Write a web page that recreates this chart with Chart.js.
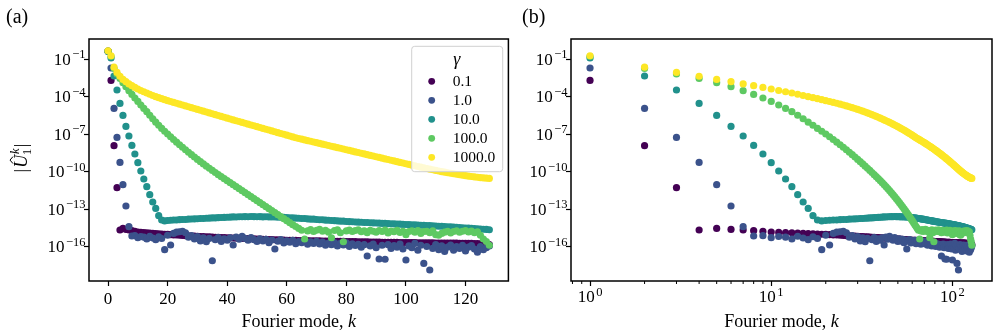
<!DOCTYPE html>
<html>
<head>
<meta charset="utf-8">
<script src="https://cdn.jsdelivr.net/npm/chart.js@4.4.1/dist/chart.umd.min.js"></script>
<style>
  html, body { margin: 0; padding: 0; background: #fff; }
  #wrap { position: relative; width: 996px; height: 336px; }
  canvas { position: absolute; top: 0; }
  #chartA { left: 0; }
  #chartB { left: 512px; }
</style>
</head>
<body>
<div id="wrap">
  <canvas id="chartA" width="512" height="336"></canvas>
  <canvas id="chartB" width="484" height="336"></canvas>
</div>
<script>
// Fourier modes k
const modes = [0,1,2,3,4,5,6,7,8,9,10,11,12,13,14,15,16,17,18,19,20,21,22,23,24,25,26,27,28,29,
  30,31,32,33,34,35,36,37,38,39,40,41,42,43,44,45,46,47,48,49,50,51,52,53,54,55,56,57,58,59,
  60,61,62,63,64,65,66,67,68,69,70,71,72,73,74,75,76,77,78,79,80,81,82,83,84,85,86,87,88,89,
  90,91,92,93,94,95,96,97,98,99,100,101,102,103,104,105,106,107,108,109,110,111,112,113,114,115,116,117,118,119,
  120,121,122,123,124,125,126,127,128];

const gammaLabels = ['0.1', '1.0', '10.0', '100.0', '1000.0'];
const colors = ['#440154', '#3b528b', '#21918c', '#5ec962', '#fde725'];

// log10 |U_1^k|, one value per mode
const logG01 = [
  -0.37,-2.71,-7.93,-11.29,-14.68,-14.55,-14.63,-14.68,-14.73,-14.79,
  -14.84,-14.87,-14.89,-14.90,-14.93,-14.94,-14.97,-14.98,-15.00,-15.02,
  -15.03,-15.05,-15.07,-15.08,-15.10,-15.11,-15.13,-15.14,-15.16,-15.17,
  -15.18,-15.20,-15.21,-15.22,-15.23,-15.24,-15.26,-15.27,-15.28,-15.29,
  -15.30,-15.31,-15.32,-15.33,-15.34,-15.35,-15.36,-15.37,-15.38,-15.39,
  -15.40,-15.41,-15.42,-15.43,-15.44,-15.45,-15.46,-15.47,-15.48,-15.49,
  -15.50,-15.50,-15.51,-15.51,-15.52,-15.52,-15.53,-15.53,-15.54,-15.54,
  -15.55,-15.55,-15.56,-15.56,-15.57,-15.57,-15.58,-15.58,-15.59,-15.59,
  -15.60,-15.60,-15.61,-15.61,-15.62,-15.62,-15.63,-15.63,-15.64,-15.64,
  -15.65,-15.65,-15.66,-15.66,-15.66,-15.67,-15.67,-15.67,-15.68,-15.68,
  -15.68,-15.69,-15.69,-15.69,-15.70,-15.70,-15.70,-15.71,-15.71,-15.71,
  -15.72,-15.72,-15.72,-15.72,-15.73,-15.73,-15.73,-15.73,-15.74,-15.74,
  -15.74,-15.75,-15.75,-15.76,-15.77,-15.78,-15.80,-15.82,-15.85];
const logG1 = [
  -0.38,-1.72,-4.95,-7.27,-9.27,-11.05,-12.76,-14.41,-15.16,-15.13,
  -15.29,-15.20,-15.25,-15.40,-15.18,-15.32,-15.45,-15.22,-15.36,-16.25,
  -15.10,-15.88,-14.95,-14.85,-14.82,-14.78,-14.90,-15.25,-15.12,-15.40,
  -15.20,-15.55,-15.30,-15.62,-15.35,-17.14,-15.45,-15.28,-15.60,-15.38,
  -15.50,-15.30,-15.88,-15.25,-15.42,-15.18,-15.35,-15.50,-15.28,-15.45,
  -15.60,-15.38,-15.55,-15.42,-15.70,-15.48,-16.20,-15.58,-15.45,-15.72,
  -15.55,-15.65,-15.50,-15.78,-15.60,-15.70,-15.55,-15.82,-15.62,-15.75,
  -15.58,-15.80,-15.65,-15.90,-15.72,-15.85,-15.68,-15.95,-15.75,-15.88,
  -15.70,-16.00,-15.78,-15.92,-15.82,-16.05,-15.85,-16.76,-15.95,-15.80,
  -16.10,-17.00,-15.90,-17.02,-15.85,-16.15,-15.92,-16.05,-15.80,-16.20,
  -17.08,-15.95,-16.10,-15.75,-16.30,-15.90,-17.35,-16.00,-17.88,-16.15,
  -15.85,-16.25,-15.95,-16.40,-16.05,-15.88,-16.30,-16.00,-16.15,-15.90,
  -16.35,-16.05,-15.92,-16.20,-16.45,-16.00,-16.25,-16.10,-15.95];
const logG10 = [
  -0.40,-0.92,-2.36,-3.48,-4.55,-5.51,-6.39,-7.16,-7.91,-8.60,
  -9.29,-9.96,-10.60,-11.21,-11.85,-12.44,-12.95,-13.53,-13.88,-13.95,
  -13.92,-13.90,-13.88,-13.88,-13.85,-13.84,-13.84,-13.81,-13.80,-13.79,
  -13.78,-13.76,-13.76,-13.74,-13.73,-13.71,-13.71,-13.69,-13.68,-13.67,
  -13.66,-13.65,-13.63,-13.64,-13.62,-13.62,-13.61,-13.62,-13.60,-13.61,
  -13.62,-13.61,-13.63,-13.62,-13.63,-13.64,-13.63,-13.65,-13.66,-13.67,
  -13.68,-13.70,-13.70,-13.73,-13.74,-13.76,-13.76,-13.79,-13.81,-13.81,
  -13.84,-13.86,-13.86,-13.89,-13.90,-13.92,-13.93,-13.95,-13.97,-13.97,
  -14.00,-14.01,-14.02,-14.04,-14.05,-14.06,-14.08,-14.08,-14.10,-14.11,
  -14.12,-14.13,-14.15,-14.15,-14.17,-14.18,-14.19,-14.21,-14.21,-14.23,
  -14.24,-14.25,-14.27,-14.27,-14.29,-14.30,-14.31,-14.33,-14.33,-14.35,
  -14.36,-14.38,-14.38,-14.41,-14.42,-14.43,-14.45,-14.47,-14.48,-14.50,
  -14.52,-14.53,-14.55,-14.56,-14.58,-14.60,-14.62,-14.63,-14.66];
const logG100 = [
  -0.36,-0.80,-1.75,-2.20,-2.55,-2.89,-3.21,-3.53,-3.83,-4.12,
  -4.39,-4.68,-4.95,-5.21,-5.50,-5.78,-6.05,-6.30,-6.55,-6.78,
  -7.00,-7.22,-7.44,-7.65,-7.86,-8.06,-8.26,-8.46,-8.65,-8.84,
  -9.03,-9.21,-9.39,-9.57,-9.74,-9.91,-10.08,-10.25,-10.41,-10.57,
  -10.73,-10.89,-11.05,-11.21,-11.37,-11.53,-11.69,-11.85,-12.01,-12.17,
  -12.33,-12.49,-12.65,-12.81,-12.97,-13.13,-13.29,-13.45,-13.61,-13.77,
  -13.93,-14.09,-14.25,-14.40,-14.55,-14.70,-15.40,-14.75,-14.65,-14.80,
  -14.70,-14.62,-14.78,-14.70,-14.85,-15.30,-14.72,-14.66,-14.90,-15.62,
  -14.75,-14.68,-14.80,-14.72,-14.66,-14.82,-14.74,-14.90,-14.70,-14.78,
  -14.85,-14.72,-14.80,-14.68,-14.92,-14.76,-14.82,-14.70,-14.88,-14.78,
  -15.05,-14.80,-14.74,-14.86,-14.72,-14.95,-14.80,-14.78,-14.90,-14.74,
  -15.05,-15.10,-14.95,-14.85,-14.78,-14.92,-14.80,-14.74,-14.86,-14.78,
  -14.72,-14.84,-14.76,-14.90,-14.82,-15.10,-15.40,-15.60,-15.90];
const logG1000 = [
  -0.34,-0.74,-1.65,-2.07,-2.38,-2.63,-2.81,-2.99,-3.13,-3.27,
  -3.40,-3.52,-3.62,-3.72,-3.82,-3.92,-4.01,-4.09,-4.17,-4.25,
  -4.33,-4.40,-4.47,-4.54,-4.61,-4.68,-4.75,-4.82,-4.89,-4.96,
  -5.03,-5.10,-5.17,-5.24,-5.31,-5.38,-5.45,-5.52,-5.59,-5.66,
  -5.73,-5.80,-5.87,-5.94,-6.00,-6.07,-6.14,-6.21,-6.28,-6.34,
  -6.41,-6.48,-6.55,-6.62,-6.68,-6.75,-6.82,-6.89,-6.96,-7.02,
  -7.09,-7.16,-7.23,-7.30,-7.36,-7.41,-7.47,-7.53,-7.58,-7.64,
  -7.69,-7.75,-7.81,-7.86,-7.92,-7.98,-8.03,-8.09,-8.14,-8.20,
  -8.26,-8.31,-8.37,-8.43,-8.48,-8.54,-8.59,-8.65,-8.71,-8.76,
  -8.82,-8.87,-8.93,-8.99,-9.04,-9.10,-9.15,-9.21,-9.27,-9.32,
  -9.38,-9.43,-9.49,-9.54,-9.60,-9.65,-9.70,-9.76,-9.81,-9.86,
  -9.91,-9.96,-10.01,-10.05,-10.10,-10.14,-10.18,-10.22,-10.26,-10.30,
  -10.33,-10.37,-10.40,-10.43,-10.46,-10.49,-10.51,-10.53,-10.55];

// tick labels
const xTicksLinear = [0, 20, 40, 60, 80, 100, 120];
const xTickExpsLog = [0, 1, 2];
const xMinorLog = [0.8, 0.9, 2, 3, 4, 5, 6, 7, 8, 9, 20, 30, 40, 50, 60, 70, 80, 90];
const yTickExps = [-1, -4, -7, -10, -13, -16];

const SERIF = '"Liberation Serif", "DejaVu Serif", serif';
const series = [logG01, logG1, logG10, logG100, logG1000];

function makeDatasets(logX) {
  return series.map((s, i) => ({
    label: gammaLabels[i],
    data: modes.map((k, j) => ({ x: k, y: Math.pow(10, s[j]) })).filter(p => !logX || p.x > 0),
    backgroundColor: colors[i],
    borderColor: colors[i],
    borderWidth: 0,
    pointRadius: 3.6,
    pointHoverRadius: 3.6,
    order: series.length - i
  }));
}

// "10" with a raised exponent, like the mathtext tick labels
function drawPow(ctx, exp, x, base, align) {
  const txt = '10';
  const ex = exp < 0 ? '\u2212' + Math.abs(exp) : String(exp);
  ctx.font = `17px ${SERIF}`;
  const wb = ctx.measureText(txt).width;
  ctx.font = `12.5px ${SERIF}`;
  const we = ctx.measureText(ex).width;
  const gap = 1.5;
  const x0 = align === 'right' ? x - wb - we - gap : x - (wb + we + gap) / 2;
  ctx.textAlign = 'left';
  ctx.textBaseline = 'alphabetic';
  ctx.font = `17px ${SERIF}`;
  ctx.fillText(txt, x0, base);
  ctx.font = `12.5px ${SERIF}`;
  ctx.fillText(ex, x0 + wb + gap, base - 6.5);
}

function drawXTitle(ctx, cx, base) {
  ctx.textAlign = 'left';
  ctx.textBaseline = 'alphabetic';
  ctx.font = `18px ${SERIF}`;
  const w1 = ctx.measureText('Fourier mode, ').width;
  ctx.font = `italic 18px ${SERIF}`;
  const w2 = ctx.measureText('k').width;
  const x = cx - (w1 + w2) / 2;
  ctx.font = `18px ${SERIF}`;
  ctx.fillText('Fourier mode, ', x, base);
  ctx.font = `italic 18px ${SERIF}`;
  ctx.fillText('k', x + w1, base);
}

function drawYTitle(ctx, cx, cy) {
  ctx.save();
  ctx.translate(cx, cy);
  ctx.rotate(-Math.PI / 2);
  ctx.textAlign = 'left';
  ctx.textBaseline = 'alphabetic';
  const base = 6;
  ctx.font = `18px ${SERIF}`;
  const wBar = ctx.measureText('|').width;
  ctx.font = `italic 18px ${SERIF}`;
  const wU = ctx.measureText('U').width;
  ctx.font = `12.5px ${SERIF}`;
  const w1 = ctx.measureText('1').width;
  ctx.font = `italic 12.5px ${SERIF}`;
  const wk = ctx.measureText('k').width;
  const wS = Math.max(w1, wk) + 1.5;
  const total = wBar + 1 + wU + wS + wBar;
  let x = -total / 2;
  ctx.font = `18px ${SERIF}`;
  ctx.fillText('|', x, base);
  x += wBar + 1;
  ctx.font = `italic 18px ${SERIF}`;
  ctx.fillText('U', x, base);
  const hx = x + wU * 0.6;
  ctx.beginPath();
  ctx.lineWidth = 1;
  ctx.moveTo(hx - 3.5, base - 14);
  ctx.lineTo(hx, base - 17);
  ctx.lineTo(hx + 3.5, base - 14);
  ctx.stroke();
  x += wU;
  ctx.font = `12.5px ${SERIF}`;
  ctx.fillText('1', x, base + 3.5);
  ctx.font = `italic 12.5px ${SERIF}`;
  ctx.fillText('k', x + 1, base - 8.5);
  x += wS;
  ctx.font = `18px ${SERIF}`;
  ctx.fillText('|', x, base);
  ctx.restore();
}

function drawLegend(ctx) {
  const x0 = 411.7, y0 = 46.3, w = 91, h = 125.4;
  ctx.beginPath();
  ctx.roundRect(x0, y0, w, h, 3);
  ctx.fillStyle = 'rgba(255,255,255,0.8)';
  ctx.fill();
  ctx.strokeStyle = '#d0d0d0';
  ctx.lineWidth = 1;
  ctx.stroke();
  ctx.fillStyle = '#000';
  ctx.textBaseline = 'middle';
  ctx.textAlign = 'center';
  ctx.font = `italic 18px ${SERIF}`;
  ctx.fillText('\u03b3', x0 + 45, y0 + 14);
  ctx.textAlign = 'left';
  ctx.font = `15.5px ${SERIF}`;
  gammaLabels.forEach((lab, i) => {
    const y = y0 + 35 + 19 * i;
    ctx.beginPath();
    ctx.arc(x0 + 20, y, 3.4, 0, Math.PI * 2);
    ctx.fillStyle = colors[i];
    ctx.fill();
    ctx.fillStyle = '#000';
    ctx.fillText(lab, x0 + 41, y + 1);
  });
}

const decorPlugin = {
  id: 'decor',
  afterDatasetsDraw(chart, args, opts) {
    const ctx = chart.ctx;
    const a = chart.chartArea;
    const xs = chart.scales.x, ys = chart.scales.y;
    ctx.save();
    ctx.strokeStyle = '#000';
    ctx.fillStyle = '#000';
    ctx.lineWidth = 1.5;
    ctx.strokeRect(a.left, a.top, a.right - a.left, a.bottom - a.top);

    yTickExps.forEach(e => {
      const py = ys.getPixelForValue(Math.pow(10, e));
      drawPow(ctx, e, a.left - 3.5, py + 5.6, 'right');
    });

    if (opts.logX) {
      ctx.lineWidth = 1;
      xMinorLog.forEach(v => {
        const px = xs.getPixelForValue(v);
        if (px < a.left - 0.5 || px > a.right + 0.5) return;
        ctx.beginPath();
        ctx.moveTo(px, a.bottom);
        ctx.lineTo(px, a.bottom + 3);
        ctx.stroke();
      });
      xTickExpsLog.forEach(e => {
        const px = xs.getPixelForValue(Math.pow(10, e));
        drawPow(ctx, e, px, 302, 'center');
      });
    }

    drawXTitle(ctx, (a.left + a.right) / 2, 327);
    if (opts.yTitle) drawYTitle(ctx, 21, 158);

    ctx.textAlign = 'left';
    ctx.textBaseline = 'alphabetic';
    ctx.font = `20px ${SERIF}`;
    ctx.fillText(opts.panel, opts.panelX, 23);

    if (opts.legend) drawLegend(ctx);
    ctx.restore();
  }
};

const tickGrid = {
  display: true,
  drawOnChartArea: false,
  drawTicks: true,
  tickLength: 5,
  tickWidth: 1.2,
  tickColor: '#000'
};

const yScale = (axisWidth) => ({
  type: 'logarithmic',
  min: Math.pow(10, -18.76),
  max: Math.pow(10, 0.6),
  afterBuildTicks: s => { s.ticks = yTickExps.map(e => ({ value: Math.pow(10, e) })); },
  afterFit: s => { s.width = axisWidth; },
  grid: tickGrid,
  border: { display: false },
  ticks: { display: false }
});

new Chart(document.getElementById('chartA'), {
  type: 'scatter',
  data: { datasets: makeDatasets(false) },
  options: {
    responsive: false,
    animation: false,
    events: [],
    layout: { padding: { left: 0, right: 2, top: 39, bottom: 0 } },
    plugins: {
      legend: { display: false },
      tooltip: { enabled: false },
      decor: { panel: '(a)', panelX: 6, yTitle: true, legend: true, logX: false }
    },
    scales: {
      x: {
        type: 'linear',
        min: -6.4,
        max: 134.4,
        afterBuildTicks: s => { s.ticks = xTicksLinear.map(v => ({ value: v })); },
        afterFit: s => { s.height = 55; },
        grid: tickGrid,
        border: { display: false },
        ticks: { font: { family: SERIF, size: 17 }, color: '#000', padding: 3, maxRotation: 0 }
      },
      y: yScale(89)
    }
  },
  plugins: [decorPlugin]
});

new Chart(document.getElementById('chartB'), {
  type: 'scatter',
  data: { datasets: makeDatasets(true) },
  options: {
    responsive: false,
    animation: false,
    events: [],
    layout: { padding: { left: 0, right: 4, top: 39, bottom: 0 } },
    plugins: {
      legend: { display: false },
      tooltip: { enabled: false },
      decor: { panel: '(b)', panelX: 10, yTitle: false, legend: false, logX: true }
    },
    scales: {
      x: {
        type: 'logarithmic',
        min: Math.pow(10, -0.105),
        max: Math.pow(10, 2.2185),
        afterBuildTicks: s => { s.ticks = xTickExpsLog.map(e => ({ value: Math.pow(10, e) })); },
        afterFit: s => { s.height = 55; },
        grid: tickGrid,
        border: { display: false },
        ticks: { display: false }
      },
      y: yScale(59)
    }
  },
  plugins: [decorPlugin]
});
</script>
</body>
</html>
